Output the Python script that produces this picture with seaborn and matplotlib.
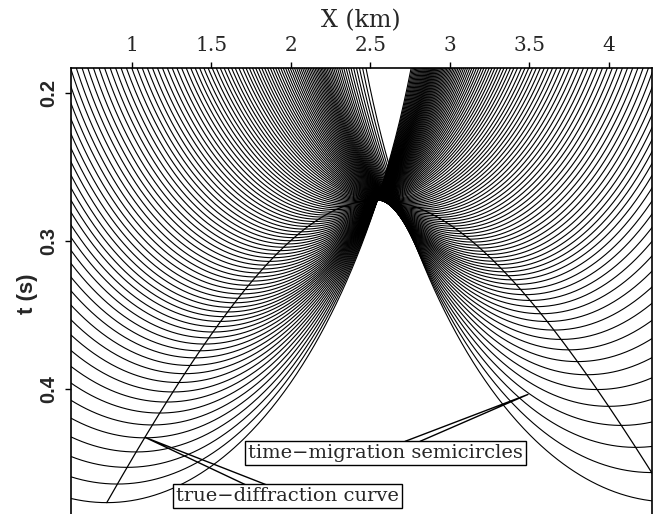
import numpy as np
import pandas as pd
import matplotlib
matplotlib.use("Agg")
import matplotlib.pyplot as plt
import seaborn as sns

# ---------------- values ----------------
x_ticks = [1, 1.5, 2, 2.5, 3, 3.5, 4]
x_tick_labels = ["1", "1.5", "2", "2.5", "3", "3.5", "4"]
t_ticks = [0.2, 0.3, 0.4]
t_tick_labels = ["0.2", "0.3", "0.4"]
x_limits = [0.615, 4.27]
t_limits = [0.4842, 0.1826]

# true-diffraction curve: apex and half-velocities of its two branches (km/s)
apex_x_km = 2.545
apex_t_s = 0.272
half_velocity_left = 4.35
half_velocity_right = 4.71
diffraction_start_km = 0.843
diffraction_end_km = 4.6

# time-migration half-velocity (km/s) used for every semicircle
migration_half_velocity = 4.35

# semicircle centres (km): left of the apex, at the apex, right of the apex
centres_left = [0.843, 0.910, 0.971, 1.028, 1.081, 1.130, 1.176, 1.219, 1.259, 1.297,
                1.333, 1.367, 1.399, 1.429, 1.458, 1.485, 1.511, 1.535, 1.559, 1.581,
                1.603, 1.625, 1.647, 1.669, 1.691, 1.713, 1.735, 1.757, 1.779, 1.801,
                1.823, 1.845, 1.867, 1.889, 1.911, 1.933, 1.955, 1.977, 1.999, 2.021,
                2.043, 2.065, 2.087, 2.109, 2.131, 2.153, 2.175, 2.197, 2.219, 2.241,
                2.263, 2.285, 2.307, 2.329, 2.351, 2.373, 2.395, 2.417, 2.439, 2.461,
                2.483, 2.505, 2.527]
centres_apex = [2.550]
centres_right = [4.385, 4.270, 4.169, 4.079, 3.999, 3.927, 3.862, 3.803, 3.749, 3.700,
                 3.655, 3.613, 3.574, 3.538, 3.505, 3.474, 3.445, 3.417, 3.391, 3.367,
                 3.344, 3.322, 3.300, 3.278, 3.256, 3.234, 3.212, 3.190, 3.168, 3.146,
                 3.124, 3.102, 3.080, 3.058, 3.036, 3.014, 2.992, 2.970, 2.948, 2.926,
                 2.904, 2.882, 2.860, 2.838, 2.816, 2.794, 2.772, 2.750, 2.728, 2.706,
                 2.684, 2.662, 2.640, 2.618, 2.596, 2.574]

# annotation wedges (base, tip, base) and label positions in data coords
semicircle_wedge_x = [2.719, 3.492, 2.813]
semicircle_wedge_t = [0.4351, 0.4034, 0.4351]
diffraction_wedge_x = [1.725, 1.084, 1.857]
diffraction_wedge_t = [0.4649, 0.4324, 0.4649]
semicircle_label_xy = [2.594, 0.4430]
diffraction_label_xy = [1.98, 0.4722]


def diffraction_time(x):
    x = np.asarray(x, dtype=float)
    a = np.where(x < apex_x_km, half_velocity_left, half_velocity_right)
    return np.sqrt(apex_t_s ** 2 + ((x - apex_x_km) / a) ** 2)


# ---------------- long-form table of all semicircles ----------------
theta = np.linspace(0.0, np.pi, 700)
rows = []
for i, x0 in enumerate(centres_left + centres_apex + centres_right):
    t0 = float(diffraction_time(x0))
    rows.append(pd.DataFrame({"x": x0 + migration_half_velocity * t0 * np.cos(theta),
                              "t": t0 * np.sin(theta), "curve": i}))
semis = pd.concat(rows, ignore_index=True)

xd = np.linspace(diffraction_start_km, diffraction_end_km, 400)
diff = pd.DataFrame({"x": xd, "t": diffraction_time(xd), "curve": 0})

# ---------------- figure ----------------
sns.set_style("white")
fig = plt.figure(figsize=(6.54, 5.14), dpi=100)
ax = fig.add_axes([70.5 / 654, 0.0, (651.7 - 70.5) / 654, 1 - 67.7 / 514])

sns.lineplot(data=semis, x="x", y="t", units="curve", estimator=None,
             sort=False, color="black", lw=0.8, ax=ax, legend=False)
sns.lineplot(data=diff, x="x", y="t", units="curve", estimator=None,
             sort=False, color="black", lw=0.9, ax=ax, legend=False)

ax.plot(semicircle_wedge_x, semicircle_wedge_t, color="black", lw=1.0)
ax.plot(diffraction_wedge_x, diffraction_wedge_t, color="black", lw=1.0)

box = dict(boxstyle="square,pad=0.15", fc="white", ec="black", lw=1.0)
ax.text(semicircle_label_xy[0], semicircle_label_xy[1], "time\u2212migration semicircles",
        ha="center", va="center", fontsize=14, family="DejaVu Serif", bbox=box, zorder=5)
ax.text(diffraction_label_xy[0], diffraction_label_xy[1], "true\u2212diffraction curve",
        ha="center", va="center", fontsize=14, family="DejaVu Serif", bbox=box, zorder=5)

ax.set_xlim(x_limits)
ax.set_ylim(t_limits)
ax.xaxis.tick_top()
ax.set_xticks(x_ticks)
ax.set_xticklabels(x_tick_labels, family="DejaVu Serif", fontsize=14.5)
ax.set_yticks(t_ticks)
ax.set_yticklabels(t_tick_labels, family="Liberation Sans", fontweight="bold",
                   fontsize=14.5, rotation=90, va="center")
ax.tick_params(axis="x", which="both", top=True, bottom=False, direction="out",
               length=4.5, width=1.0, pad=5, color="black")
ax.tick_params(axis="y", which="both", left=True, direction="out",
               length=4.5, width=1.0, pad=4, color="black")
ax.set_xlabel("")
ax.set_ylabel("")
for side in ["top", "left", "right"]:
    ax.spines[side].set_visible(True)
    ax.spines[side].set_color("black")
    ax.spines[side].set_linewidth(1.2)
ax.spines["bottom"].set_visible(False)

fig.text(361 / 654, 1 - 21 / 514, "X (km)", ha="center", va="center",
         fontsize=17, family="DejaVu Serif")
fig.text(27 / 654, 1 - 294 / 514, "t (s)", ha="center", va="center",
         rotation=90, fontsize=16, family="Liberation Sans", fontweight="bold")

fig.savefig("out.png", dpi=100)
